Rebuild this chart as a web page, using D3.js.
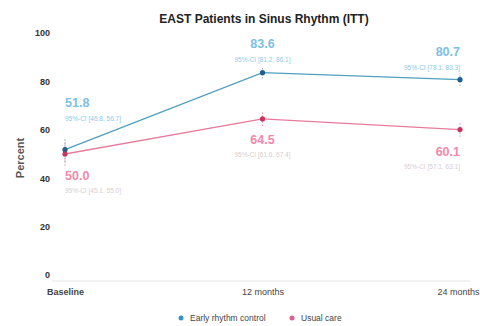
<!DOCTYPE html>
<html>
<head>
<meta charset="utf-8">
<script src="https://cdn.jsdelivr.net/npm/d3@7"></script>
<style>
  body { margin: 0; background: #fff; }
  svg { font-family: "Liberation Sans", Arial, sans-serif; }
</style>
</head>
<body>
<div id="chart"></div>
<script>
// chart data
const timepoints = ["Baseline", "12 months", "24 months"];
const yTicks = [0, 20, 40, 60, 80, 100];
const earlyValues = [51.8, 83.6, 80.7];
const earlyLow = [46.8, 81.2, 78.1];
const earlyHigh = [56.7, 86.1, 83.3];
const usualValues = [50.0, 64.5, 60.1];
const usualLow = [45.1, 61.6, 57.1];
const usualHigh = [55.0, 67.4, 63.1];
const seriesNames = ["Early rhythm control", "Usual care"];

const width = 480, height = 326;
const svg = d3.select("#chart").append("svg")
  .attr("width", width)
  .attr("height", height);

// scales
const xScale = d3.scalePoint()
  .domain(timepoints)
  .range([65, 460]);

const yScale = d3.scaleLinear()
  .domain([0, 100])
  .range([275, 33]);

// title
svg.append("text")
  .attr("x", 264)
  .attr("y", 23)
  .attr("text-anchor", "middle")
  .attr("font-size", 12)
  .attr("font-weight", 600)
  .attr("fill", "#222")
  .text("EAST Patients in Sinus Rhythm (ITT)");

// faint bottom line
svg.append("line")
  .attr("x1", 52).attr("x2", 470)
  .attr("y1", 281).attr("y2", 281)
  .attr("stroke", "#e6e6e6");

// Y axis (labels only)
const yAxis = svg.append("g")
  .attr("class", "yAxis")
  .attr("transform", "translate(52,0)")
  .call(d3.axisLeft(yScale).tickValues(yTicks).tickSize(0).tickPadding(2));
yAxis.select(".domain").remove();
yAxis.selectAll("text")
  .attr("font-size", 9)
  .attr("font-weight", "bold")
  .attr("fill", "#333");

svg.append("text")
  .attr("transform", "translate(24,158) rotate(-90)")
  .attr("text-anchor", "middle")
  .attr("font-size", 11)
  .attr("font-weight", "bold")
  .attr("fill", "#555")
  .text("Percent");

// X axis (labels only)
const xAxis = svg.append("g")
  .attr("class", "xAxis")
  .attr("transform", "translate(0,287)")
  .call(d3.axisBottom(xScale).tickSize(0).tickPadding(0));
xAxis.select(".domain").remove();
xAxis.selectAll("text")
  .attr("font-size", 9)
  .attr("fill", "#444")
  .attr("dy", "0.9em")
  .attr("text-anchor", (d, i) => i === timepoints.length - 1 ? "end" : "middle")
  .attr("dx", (d, i) => i === timepoints.length - 1 ? 19 : 0)
  .attr("font-weight", d => d === "Baseline" ? "bold" : "normal");

const series = [
  { name: seriesNames[0], values: earlyValues, low: earlyLow, high: earlyHigh,
    line: "#4f9fbf", point: "#1f5f8f", label: "#7cc0e4", ci: "#8ccaea", offsets: [-47, -29, -28], ciGap: 14 },
  { name: seriesNames[1], values: usualValues, low: usualLow, high: usualHigh,
    line: "#e67c9c", point: "#c8335f", label: "#f389aa", ci: "#d6cdd1", offsets: [22, 21, 22], ciGap: 13 }
];

const anchors = ["start", "middle", "end"];

series.forEach(s => {
  const pts = timepoints.map((t, i) => ({ t: t, i: i, v: s.values[i], lo: s.low[i], hi: s.high[i] }));

  svg.append("path")
    .datum(pts)
    .attr("fill", "none")
    .attr("stroke", s.line)
    .attr("stroke-width", 1.3)
    .attr("d", d3.line().x(d => xScale(d.t)).y(d => yScale(d.v)));

  // error bars
  svg.selectAll(null)
    .data(pts)
    .enter()
    .append("line")
    .attr("x1", d => xScale(d.t)).attr("x2", d => xScale(d.t))
    .attr("y1", d => yScale(d.lo)).attr("y2", d => yScale(d.hi))
    .attr("stroke", s.point)
    .attr("stroke-opacity", 0.5)
    .attr("stroke-width", 1)
    .attr("stroke-dasharray", "1.5,1.5");

  svg.selectAll(null)
    .data(pts)
    .enter()
    .append("circle")
    .attr("cx", d => xScale(d.t))
    .attr("cy", d => yScale(d.v))
    .attr("r", 2.6)
    .attr("fill", s.point);

  // value labels
  svg.selectAll(null)
    .data(pts)
    .enter()
    .append("text")
    .attr("x", d => xScale(d.t))
    .attr("y", d => yScale(d.v) + s.offsets[d.i] + 4)
    .attr("text-anchor", d => anchors[d.i])
    .attr("font-size", 12.5)
    .attr("font-weight", "bold")
    .attr("fill", s.label)
    .text(d => d.v.toFixed(1));

  svg.selectAll(null)
    .data(pts)
    .enter()
    .append("text")
    .attr("x", d => xScale(d.t))
    .attr("y", d => yScale(d.v) + s.offsets[d.i] + 4 + s.ciGap)
    .attr("text-anchor", d => anchors[d.i])
    .attr("font-size", 6.5)
    .attr("fill", s.ci)
    .text(d => "95%-CI [" + d.lo.toFixed(1) + ", " + d.hi.toFixed(1) + "]");
});

// legend
const legend = svg.append("g").attr("transform", "translate(181,318)");
const legendX = [0, 111];
const legendColors = ["#3a8fd0", "#e0608a"];
seriesNames.forEach((n, i) => {
  legend.append("circle")
    .attr("cx", legendX[i]).attr("cy", 0)
    .attr("r", 2.5)
    .attr("fill", legendColors[i]);
  legend.append("text")
    .attr("x", legendX[i] + 9).attr("y", 3)
    .attr("font-size", 8.5)
    .attr("fill", "#444")
    .text(n);
});
</script>
</body>
</html>
